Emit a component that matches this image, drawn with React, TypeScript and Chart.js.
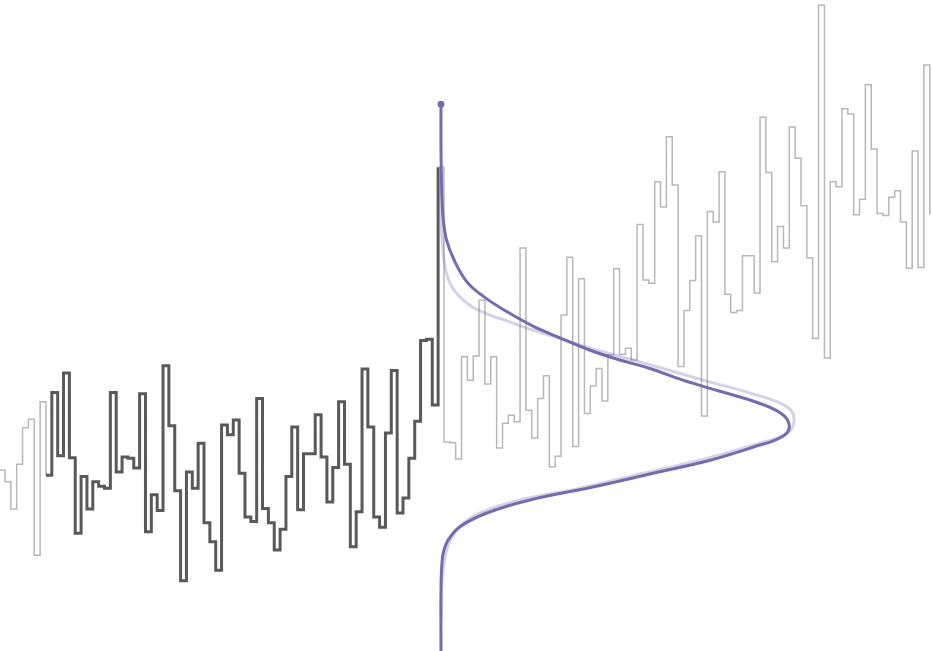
import React, { useEffect, useRef } from "react";
import { Chart, registerables } from "chart.js";

Chart.register(...registerables);

// Step index at which each run of the series begins
const EARLY_START = 0;
const OBSERVED_START = 8;
const LATER_START = 75;

// Series values, one per step
const earlyValues = [2.78, 2.6, 2.18, 2.87, 3.43, 3.56, 1.47, 3.83, 2.7];

const observedValues = [
  2.7, 3.97, 3.0, 4.27, 2.97, 1.81, 2.68, 2.18, 2.6, 2.53, 2.5, 3.97, 2.75, 2.98,
  2.96, 2.81, 3.95, 1.83, 2.4, 2.16, 4.38, 3.46, 2.46, 1.08, 2.75, 2.5, 3.19, 1.97,
  1.68, 1.24, 3.47, 3.32, 3.55, 2.73, 2.06, 1.99, 3.88, 2.19, 1.97, 1.55, 1.87, 2.68,
  3.44, 2.17, 3.03, 3.03, 3.63, 2.98, 2.29, 2.82, 3.83, 2.87, 1.6, 2.14, 4.33, 3.44,
  2.06, 1.9, 3.35, 4.31, 2.12, 2.35, 2.96, 3.53, 4.77, 4.79, 3.78, 7.43,
];

const laterValues = [
  7.43, 3.21, 3.2, 2.95, 4.52, 4.16, 4.53, 5.39, 4.1, 4.52, 3.12, 3.5, 3.62, 3.52,
  6.19, 3.7, 3.27, 3.88, 4.23, 2.83, 2.99, 5.16, 6.05, 3.14, 5.72, 3.65, 4.07, 4.34,
  3.84, 4.55, 5.87, 4.56, 4.65, 4.47, 6.55, 5.7, 5.65, 7.21, 6.82, 7.9, 7.16, 4.37,
  5.23, 5.69, 6.38, 3.61, 6.75, 6.59, 7.36, 5.48, 5.2, 5.23, 6.07, 6.07, 5.5, 8.2,
  7.35, 5.98, 6.52, 6.19, 8.05, 7.57, 6.84, 6.04, 4.8, 9.92, 4.5, 7.21, 7.13, 8.33,
  8.25, 6.7, 6.94, 8.7, 7.71, 6.72, 6.69, 6.97, 7.07, 6.59, 5.88, 7.68, 5.89, 9.0, 6.7,
];

// Forecast distribution: density at each level
const forecastLevels = [
  8.4, 7.7, 7.24, 6.93, 6.62, 6.31, 6.01, 5.67, 5.44, 5.21, 4.99, 4.81, 4.62, 4.47,
  4.34, 4.16, 3.99, 3.84, 3.66, 3.47, 3.3, 3.13, 2.93, 2.73, 2.52, 2.32, 2.12, 1.91,
  1.71, 1.51, 1.29, 0.94, 0,
];
const forecastDensity = [
  0, 0, 0.0014, 0.003, 0.0066, 0.016, 0.037, 0.074, 0.123, 0.189, 0.263, 0.34, 0.426,
  0.511, 0.597, 0.691, 0.797, 0.891, 0.969, 0.995, 0.977, 0.891, 0.769, 0.606, 0.434,
  0.254, 0.131, 0.054, 0.021, 0.0066, 0.002, 0, 0,
];

// Earlier distribution, drawn faintly underneath
const baselineLevels = [
  7.24, 6.47, 6.24, 6.01, 5.78, 5.59, 5.44, 5.28, 5.16, 5.07, 4.98, 4.85, 4.65, 4.44,
  4.16, 3.95, 3.75, 3.55, 3.35, 3.16, 2.93, 2.72, 2.5, 2.32, 2.12, 1.94, 1.75, 1.51,
  1.24, 0.94, 0.48,
];
const baselineDensity = [
  0, 0.0014, 0.0043, 0.0086, 0.017, 0.031, 0.054, 0.091, 0.14, 0.189, 0.234, 0.311,
  0.426, 0.569, 0.749, 0.891, 0.989, 1.009, 0.989, 0.891, 0.74, 0.569, 0.397, 0.226,
  0.111, 0.06, 0.031, 0.014, 0.006, 0.0014, 0,
];

const PURPLE = "#756bb1";
const PURPLE_FAINT = "rgba(117, 107, 177, 0.3)";
const DARK_GRAY = "#595959";
const LIGHT_GRAY = "#b8b8b8";

const W = 932;
const H = 651;

const stepPoints = (start: number, vals: number[]) =>
  vals.map((y, i) => ({ x: start + i, y }));

const densityPoints = (levels: number[], dens: number[]) =>
  levels.map((y, i) => ({ x: dens[i], y }));

export default function App() {
  const ref = useRef<HTMLCanvasElement>(null);

  useEffect(() => {
    const canvas = ref.current;
    if (!canvas) return;

    const chart = new Chart(canvas, {
      type: "line",
      data: {
        datasets: [
          {
            data: densityPoints(forecastLevels, forecastDensity),
            xAxisID: "xd",
            borderColor: PURPLE,
            borderWidth: 3,
            tension: 0.4,
            pointRadius: (c: any) => (c.dataIndex === 0 ? 3.4 : 0),
            pointBackgroundColor: PURPLE,
            pointBorderWidth: 0,
          },
          {
            data: densityPoints(baselineLevels, baselineDensity),
            xAxisID: "xd",
            borderColor: PURPLE_FAINT,
            borderWidth: 3,
            tension: 0.4,
            pointRadius: 0,
          },
          {
            data: stepPoints(OBSERVED_START, observedValues),
            xAxisID: "x",
            borderColor: DARK_GRAY,
            borderWidth: 3,
            stepped: true,
            pointRadius: 0,
          },
          {
            data: stepPoints(EARLY_START, earlyValues),
            xAxisID: "x",
            borderColor: LIGHT_GRAY,
            borderWidth: 1.5,
            stepped: true,
            pointRadius: 0,
          },
          {
            data: stepPoints(LATER_START, laterValues),
            xAxisID: "x",
            borderColor: LIGHT_GRAY,
            borderWidth: 1.5,
            stepped: true,
            pointRadius: 0,
          },
        ],
      },
      options: {
        animation: false,
        responsive: false,
        events: [],
        layout: { padding: 0, autoPadding: false },
        plugins: {
          legend: { display: false },
          tooltip: { enabled: false },
        },
        scales: {
          x: { type: "linear", display: false, min: 0.1457, max: 159.381 },
          xd: { type: "linear", display: false, min: -1.26, max: 1.40286 },
          y: { type: "linear", display: false, min: 0, max: 10 },
        },
      },
    } as any);

    return () => chart.destroy();
  }, []);

  return (
    <div
      style={{
        position: "fixed",
        left: 0,
        top: 0,
        width: W,
        height: H,
        background: "#ffffff",
      }}
    >
      <canvas ref={ref} width={W} height={H} style={{ display: "block" }} />
    </div>
  );
}
